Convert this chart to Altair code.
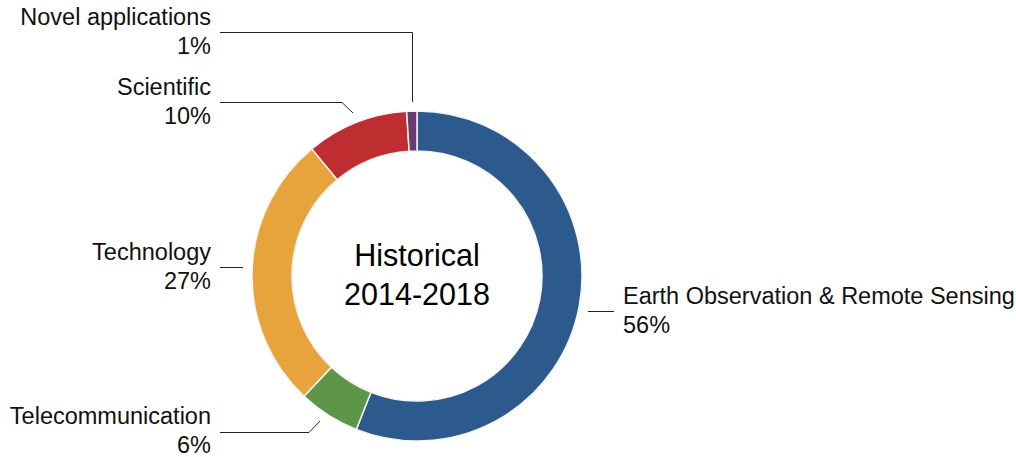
import altair as alt
import pandas as pd

# ---- data ----
categories = ["Earth Observation & Remote Sensing", "Telecommunication", "Technology",
              "Scientific", "Novel applications"]
values = [56, 6, 27, 10, 1]
pct_labels = ["56%", "6%", "27%", "10%", "1%"]
colors = ["#2D5A8C", "#5C9646", "#E8A43C", "#BE2E30", "#6A3B70"]
center_lines = ["Historical", "2014-2018"]

# ---- layout (pixel positions for annotations) ----
CX, CY = 417, 276
label_layout = {
    # name: (x, y_first_line, align)
    "Earth Observation & Remote Sensing": (623, 297, "left"),
    "Telecommunication": (211, 417, "right"),
    "Technology": (211, 253, "right"),
    "Scientific": (211, 88, "right"),
    "Novel applications": (211, 18, "right"),
}
leaders = [  # x, y, x2, y2
    (588, 311.5, 614, 311.5),
    (220, 432.5, 309, 432.5), (309, 432.5, 320, 421),
    (220, 267.5, 243, 267.5),
    (220, 102.5, 342, 102.5), (342, 102.5, 353, 113),
    (220, 32.5, 412.5, 32.5), (412.5, 32.5, 412.5, 102),
]

df = pd.DataFrame({"category": categories, "value": values, "idx": range(len(values))})

arc = alt.Chart(df).mark_arc(innerRadius=125, outerRadius=165, stroke="#f4f4f4",
                             strokeWidth=1.5).encode(
    theta=alt.Theta("value:Q", stack=True),
    color=alt.Color("category:N", scale=alt.Scale(domain=categories, range=colors), legend=None),
    order=alt.Order("idx:Q"),
    x=alt.value(CX),
    y=alt.value(CY),
)

rows = []
for c, p in zip(categories, pct_labels):
    x, y, a = label_layout[c]
    rows.append({"text": c, "x": x, "y": y, "side": a})
    rows.append({"text": p, "x": x, "y": y + 28.5, "side": a})
lab = pd.DataFrame(rows)

font = "Liberation Sans"
FS = 23.5
left_txt = alt.Chart(lab[lab["side"] == "left"]).mark_text(
    align="left", baseline="middle", fontSize=FS, font=font, color="#111111").encode(
    x=alt.X("x:Q", scale=None), y=alt.Y("y:Q", scale=None), text="text:N")
right_txt = alt.Chart(lab[lab["side"] == "right"]).mark_text(
    align="right", baseline="middle", fontSize=FS, font=font, color="#111111").encode(
    x=alt.X("x:Q", scale=None), y=alt.Y("y:Q", scale=None), text="text:N")

ld = pd.DataFrame(leaders, columns=["x", "y", "x2", "y2"])
lines = alt.Chart(ld).mark_rule(color="#222222", strokeWidth=1).encode(
    x=alt.X("x:Q", scale=None), y=alt.Y("y:Q", scale=None),
    x2="x2:Q", y2="y2:Q")

cdf = pd.DataFrame({"text": center_lines, "x": [CX, CX], "y": [257, 296]})
center = alt.Chart(cdf).mark_text(align="center", baseline="middle", fontSize=30.5,
                                  font=font, color="#000000").encode(
    x=alt.X("x:Q", scale=None), y=alt.Y("y:Q", scale=None), text="text:N")

chart = alt.layer(arc, lines, left_txt, right_txt, center).properties(
    width=1016, height=457, padding=0, autosize=alt.AutoSizeParams(type="none"),
    background="white",
).configure_view(stroke=None)

chart.save("out.html", embed_options={"renderer": "svg", "actions": False})
